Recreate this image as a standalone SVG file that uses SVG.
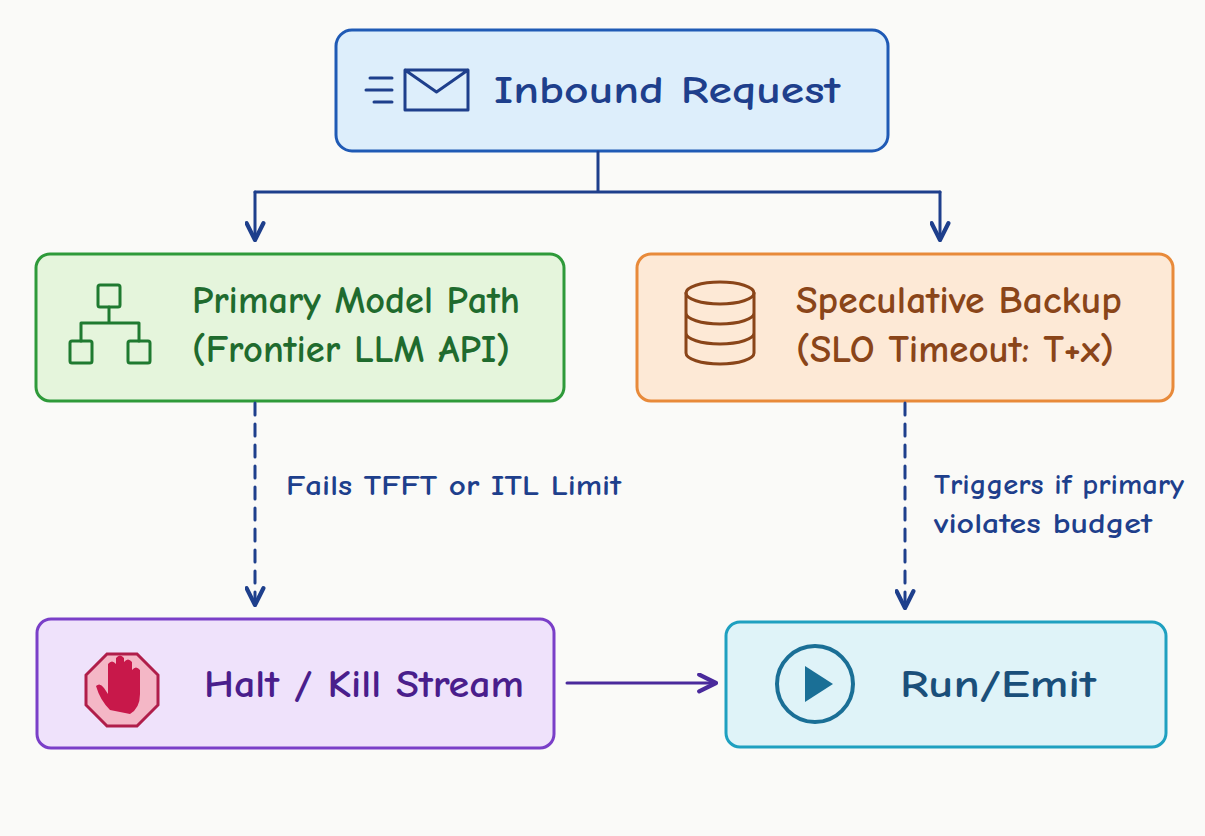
<svg xmlns="http://www.w3.org/2000/svg" width="1205" height="836" viewBox="0 0 1205 836">
<defs>
<marker id="ah" viewBox="0 0 10 10" refX="9" refY="5" markerWidth="7" markerHeight="7" orient="auto-start-reverse"><path d="M1,1 L9,5 L1,9" fill="none" stroke="context-stroke" stroke-width="2" stroke-linecap="round" stroke-linejoin="round"/></marker>
<style>
text{font-family:"Comic Neue","Liberation Sans",sans-serif;font-weight:bold}
.t{font-size:38px}
.s{font-size:28px;fill:#1e3f8c}
.c{fill:none;stroke-width:3;stroke-linecap:round;stroke-linejoin:round}
</style>
</defs>
<rect width="1205" height="836" fill="#fafaf8"/>
<g id="inbound">
<rect x="336" y="30" width="552" height="121" rx="16" fill="#ddeefb" stroke="#1f5ab5" stroke-width="3"/>
<path d="M405,70 h63 v40 h-63 z M405,70 l31.5,22 l31.5,-22" class="c" stroke="#1e3f8c"/>
<path d="M370,78 h22 M366,90 h26 M374,102 h18" class="c" stroke="#1e3f8c"/>
<text x="494" y="103" class="t" fill="#1e3f8c" textLength="346" lengthAdjust="spacingAndGlyphs">Inbound Request</text>
</g>
<g id="primary">
<rect x="36" y="254" width="528" height="147" rx="14" fill="#e5f5dc" stroke="#2e9a3a" stroke-width="3"/>
<g class="c" stroke="#1f7a30"><rect x="98" y="285" width="22" height="22" rx="2"/><rect x="70" y="341" width="22" height="22" rx="2"/><rect x="128" y="341" width="22" height="22" rx="2"/><path d="M109,307 v16 M81,341 v-18 h58 v18"/></g>
<text x="192" y="313" class="t" fill="#1f6b2e" textLength="328" lengthAdjust="spacingAndGlyphs">Primary Model Path</text>
<text x="192" y="362" class="t" fill="#1f6b2e" textLength="318" lengthAdjust="spacingAndGlyphs">(Frontier LLM API)</text>
</g>
<g id="backup">
<rect x="637" y="254" width="536" height="147" rx="14" fill="#fde9d6" stroke="#e88a3a" stroke-width="3"/>
<g class="c" stroke="#8a4519"><ellipse cx="720" cy="293" rx="34" ry="11"/><path d="M686,293 v60 a34,11 0 0 0 68,0 v-60 M686,313 a34,11 0 0 0 68,0 M686,333 a34,11 0 0 0 68,0"/></g>
<text x="796" y="313" class="t" fill="#8a4519" textLength="326" lengthAdjust="spacingAndGlyphs">Speculative Backup</text>
<text x="796" y="362" class="t" fill="#8a4519" textLength="318" lengthAdjust="spacingAndGlyphs">(SLO Timeout: T+x)</text>
</g>
<g id="halt">
<rect x="37" y="619" width="517" height="129" rx="14" fill="#efe2fb" stroke="#7a3fc8" stroke-width="3"/>
<polygon points="107,654 137,654 158,675 158,705 137,726 107,726 86,705 86,675" fill="#f4b7c6" stroke="#b01e4a" stroke-width="3"/>
<path d="M110,710 q-10,-10 -14,-24 q4,-4 8,2 l4,6 v-30 q4,-5 8,0 v22 v-28 q4,-5 8,0 v28 v-24 q4,-5 8,0 v26 v-18 q4,-5 8,0 v24 q0,14 -10,20 z" fill="#c8184a"/>
<text x="204" y="697" class="t" fill="#4a1e8c" textLength="320" lengthAdjust="spacingAndGlyphs">Halt / Kill Stream</text>
</g>
<g id="run">
<rect x="726" y="622" width="440" height="125" rx="14" fill="#dff3f8" stroke="#1fa0c0" stroke-width="3"/>
<circle cx="815" cy="684" r="38" fill="none" stroke="#1a6f96" stroke-width="4"/>
<polygon points="805,666 805,702 833,684" fill="#1a6f96"/>
<text x="900" y="697" class="t" fill="#1a4f7a" textLength="196" lengthAdjust="spacingAndGlyphs">Run/Emit</text>
</g>
<g id="connectors">
<path d="M598,152 V192 M255,192 H940" class="c" stroke="#1e3f8c"/>
<path d="M255,192 V240" class="c" stroke="#1e3f8c" marker-end="url(#ah)"/>
<path d="M940,192 V240" class="c" stroke="#1e3f8c" marker-end="url(#ah)"/>
<path d="M255,403 V605" class="c" stroke="#1e3f8c" stroke-dasharray="12 9" marker-end="url(#ah)"/>
<path d="M905,403 V608" class="c" stroke="#1e3f8c" stroke-dasharray="12 9" marker-end="url(#ah)"/>
<path d="M567,683 H716" class="c" stroke="#4a2a9c" marker-end="url(#ah)"/>
<text x="286" y="495" class="s" textLength="335" lengthAdjust="spacingAndGlyphs">Fails TFFT or ITL Limit</text>
<text x="934" y="494" class="s" textLength="250" lengthAdjust="spacingAndGlyphs">Triggers if primary</text>
<text x="934" y="533" class="s" textLength="218" lengthAdjust="spacingAndGlyphs">violates budget</text>
</g>
</svg>
